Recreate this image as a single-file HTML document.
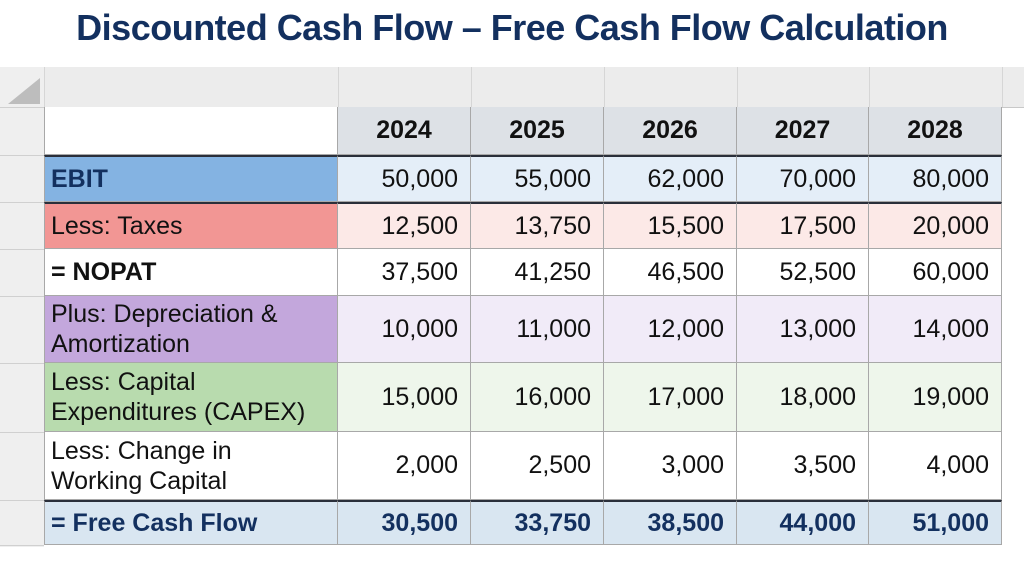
<!DOCTYPE html><html><head><style>
body{margin:0;width:1024px;height:572px;background:#fff;position:relative;overflow:hidden;font-family:"Liberation Sans",sans-serif}
.t{position:absolute;left:0;width:1024px;top:7px;text-align:center;font-weight:bold;font-size:36px;color:#13305f;letter-spacing:-0.5px}
.strip{position:absolute;left:0;top:67px;width:1024px;height:40px;background:#ececec;border-bottom:1px solid #c8c8c8}
.gut{position:absolute;left:0;top:67px;width:44px;height:480px;background:#efefef}
.tri{position:absolute;left:8px;top:78px;width:0;height:0;border-left:32px solid transparent;border-bottom:26px solid #bdbdbd}
.c{position:absolute;box-sizing:border-box;border-right:1px solid #a8a8a8;border-bottom:1px solid #a8a8a8;font-size:25px;color:#111;display:flex;align-items:center}
.v{justify-content:flex-end;padding-right:12px}
.l{padding-left:6px;line-height:30px}
.h{font-weight:bold;justify-content:center;background:#dde1e6}
.b{font-weight:bold;color:#13305f}
.gl{position:absolute;left:0;width:44px;height:1px;background:#d0d0d0}
.vl{position:absolute;top:67px;height:40px;width:1px;background:#d6d6d6}
</style></head><body>
<div class="t">Discounted Cash Flow – Free Cash Flow Calculation</div>
<div class="strip"></div><div class="gut"></div><div class="tri"></div>
<div class="vl" style="left:44px"></div><div class="vl" style="left:338px"></div><div class="vl" style="left:471px"></div><div class="vl" style="left:604px"></div><div class="vl" style="left:737px"></div><div class="vl" style="left:869px"></div><div class="vl" style="left:1002px"></div>
<div class="gl" style="top:107px"></div><div class="gl" style="top:155px"></div><div class="gl" style="top:202px"></div><div class="gl" style="top:249px"></div><div class="gl" style="top:296px"></div><div class="gl" style="top:363px"></div><div class="gl" style="top:432px"></div><div class="gl" style="top:500px"></div><div class="gl" style="top:545px"></div>
<div id="tb"></div>
<script>
var cols=[44,338,471,604,737,869,1002];
var rows=[
[107,155,"",["2024","2025","2026","2027","2028"],"#fff","#dde1e6","h"],
[155,202,"EBIT",["50,000","55,000","62,000","70,000","80,000"],"#84b3e2","#e4eef8","e"],
[202,249,"Less: Taxes",["12,500","13,750","15,500","17,500","20,000"],"#f29694","#fce9e7",""],
[249,296,"= NOPAT",["37,500","41,250","46,500","52,500","60,000"],"#fff","#fff","n"],
[296,363,"Plus: Depreciation &amp;<br>Amortization",["10,000","11,000","12,000","13,000","14,000"],"#c3a7dc","#f1ebf8",""],
[363,432,"Less: Capital<br>Expenditures (CAPEX)",["15,000","16,000","17,000","18,000","19,000"],"#b8dbae","#eef6eb",""],
[432,500,"Less: Change in<br>Working Capital",["2,000","2,500","3,000","3,500","4,000"],"#fff","#fff",""],
[500,545,"= Free Cash Flow",["30,500","33,750","38,500","44,000","51,000"],"#d9e6f1","#d9e6f1","f"]];
var h="";
rows.forEach(function(r,i){
 var top=r[0],ht=r[1]-r[0];
 var bt=(i==1||i==2||i==7)?"border-top:2px solid #2a2f3a;":"";
 var lw=r[6]=="e"||r[6]=="f"?"font-weight:bold;color:#13305f;":r[6]=="n"?"font-weight:bold;":"";
 h+='<div class="c l" style="'+bt+'left:44px;top:'+top+'px;width:294px;height:'+ht+'px;background:'+r[4]+';border-left:1px solid #a8a8a8;'+lw+'">'+r[2]+'</div>';
 for(var j=0;j<5;j++){
  var cls=r[6]=="h"?"c h":"c v"+(r[6]=="f"?" b":"");
  h+='<div class="'+cls+'" style="'+bt+'left:'+cols[j+1]+'px;top:'+top+'px;width:'+(cols[j+2]-cols[j+1])+'px;height:'+ht+'px;'+(r[6]=="h"?'':'background:'+r[5])+'">'+r[3][j]+'</div>';
 }
});
document.getElementById("tb").innerHTML=h;
</script>
</body></html>
